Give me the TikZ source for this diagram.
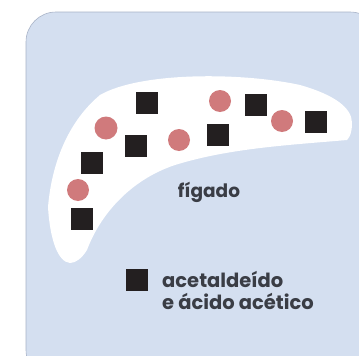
\documentclass[tikz,border=0pt]{standalone}
\usepackage{fontspec}
\setmainfont{Poppins}[BoldFont={Poppins Bold}]
\definecolor{bgblue}{HTML}{D4DFF0}
\definecolor{bgline}{HTML}{A9B4C8}
\definecolor{sq}{HTML}{231F20}
\definecolor{dot}{HTML}{D07A7C}
\definecolor{txt}{HTML}{3A3D45}
\begin{document}
\begin{tikzpicture}[x=1pt,y=-1pt,
  sqr/.style={fill=sq,draw=none,minimum size=22pt,inner sep=0pt},
  ball/.style={circle,fill=dot,draw=none,minimum size=22pt,inner sep=0pt},
  lbl/.style={text=txt,font=\bfseries\fontsize{18.5}{22}\selectfont,inner sep=0pt},
  leglbl/.style={lbl,font=\bfseries\fontsize{19.5}{22}\selectfont}]
\useasboundingbox (0,0) rectangle (359,356);
\fill[white] (0,0) rectangle (359,356);
\draw[bgline,fill=bgblue,line width=0.6pt,rounded corners=30pt] (26,12) rectangle (380,380);
% liver
\fill[white] (100,95) .. controls (140,72) and (240,72) .. (300,85)
  .. controls (335,95) and (352,108) .. (352,123)
  .. controls (352,132) and (350,137) .. (347,140)
  .. controls (290,145) and (230,148) .. (175,165)
  .. controls (130,180) and (100,215) .. (87,250)
  .. controls (82,258) and (76,263) .. (70,263)
  .. controls (58,262) and (50,240) .. (48,207)
  .. controls (52,160) and (70,120) .. (100,95) -- cycle;
\node[sqr] (s1) at (147,103) {};
\node[sqr] (s2) at (256,105) {};
\node[sqr] (s3) at (316,122) {};
\node[sqr] (s4) at (218,135) {};
\node[sqr] (s5) at (136,146) {};
\node[sqr] (s6) at (92,163) {};
\node[sqr] (s7) at (82,219) {};
\node[ball,minimum size=23pt] (c1) at (106,128) {};
\node[ball] (c2) at (220,101) {};
\node[ball] (c3) at (282,121) {};
\node[ball] (c4) at (179,140) {};
\node[ball] (c5) at (78,190) {};
\node[lbl,anchor=base] (fig) at (209,197) {fígado};
\node[sqr] (leg) at (137,280) {};
\node[leglbl,anchor=base west] (legt1) at (162,287) {acetaldeído};
\node[leglbl,anchor=base west] (legt2) at (162,309) {e ácido acético};
\end{tikzpicture}
\end{document}
